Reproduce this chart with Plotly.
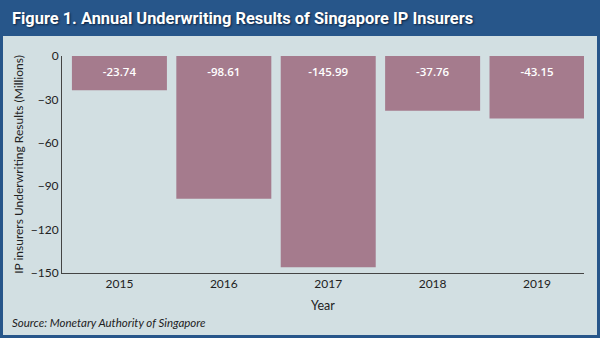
import plotly.graph_objects as go

years = ["2015", "2016", "2017", "2018", "2019"]
results = [-23.74, -98.61, -145.99, -37.76, -43.15]
y_ticks = [0, -30, -60, -90, -120, -150]

W, H = 600, 338
L, R, T, B = 62, 16, 56, 65
pw, ph = W - L - R, H - T - B
BODY = "Lato"

def px_x(px):
    return (px - L) / pw

def px_y(py):
    return (H - B - py) / ph

fig = go.Figure()
fig.add_trace(go.Bar(
    x=years, y=results,
    marker=dict(color="#a57b8d", line=dict(width=0)),
    hoverinfo="skip",
))

label_offset = -11.7
fig.add_trace(go.Scatter(
    x=years, y=[label_offset] * len(years), mode="text",
    text=[f"{v:.2f}" for v in results],
    textfont=dict(family="Open Sans", size=11.5, color="white", weight=600),
    textposition="middle center", hoverinfo="skip", cliponaxis=False,
))

# background panel
fig.add_shape(type="rect", xref="paper", yref="paper",
              x0=px_x(3), x1=px_x(597), y0=px_y(335), y1=px_y(36),
              fillcolor="#d2dfe2", line=dict(width=0), layer="below")

fig.add_annotation(xref="paper", yref="paper", x=px_x(10), y=px_y(19),
                   xanchor="left", yanchor="middle", showarrow=False,
                   text="<b>Figure 1. Annual Underwriting Results of Singapore IP Insurers</b>",
                   font=dict(family="Roboto", size=16.4, color="white",
                             shadow="1px 1px 2px #0a2240"))

fig.add_annotation(xref="paper", yref="paper", x=px_x(10), y=px_y(322),
                   xanchor="left", yanchor="middle", showarrow=False,
                   text="<i>Source: Monetary Authority of Singapore</i>",
                   font=dict(family=BODY, size=11.5, color="#222"))

fig.update_layout(
    width=W, height=H,
    margin=dict(l=L, r=R, t=T, b=B),
    paper_bgcolor="#27568a",
    plot_bgcolor="rgba(0,0,0,0)",
    bargap=0.09,
    showlegend=False,
    font=dict(family=BODY, size=12, color="#222"),
    xaxis=dict(
        type="category", range=[-0.55, 4.45],
        showline=True, linecolor="#444", linewidth=1, showgrid=False,
        ticks="", title=dict(text="Year", font=dict(size=12.5), standoff=10),
        tickfont=dict(size=12),
    ),
    yaxis=dict(
        range=[-150, 0], tickvals=y_ticks, showline=True, linecolor="#444",
        linewidth=1, showgrid=False, zeroline=False, ticks="",
        title=dict(text="IP insurers Underwriting Results (Millions)", font=dict(size=12), standoff=4),
        tickfont=dict(size=12),
    ),
)

fig.write_html("out.html")
